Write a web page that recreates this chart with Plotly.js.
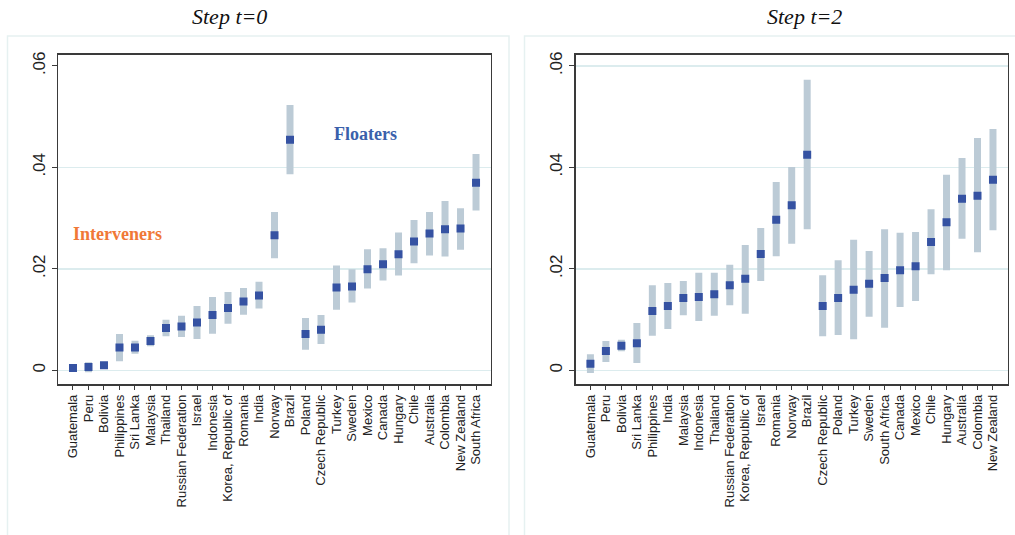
<!DOCTYPE html>
<html>
<head>
<meta charset="utf-8">
<script src="https://cdn.plot.ly/plotly-3.0.1.min.js"></script>
<style>html,body{margin:0;padding:0;background:#fff;}#chart{width:1015px;height:535px;}</style>
</head>
<body>
<div id="chart"></div>
<script>
// ---- Step t=0 ----
const countries0 = ["Guatemala","Peru","Bolivia","Philippines","Sri Lanka","Malaysia","Thailand","Russian Federation","Israel","Indonesia","Korea, Republic of","Romania","India","Norway","Brazil","Poland","Czech Republic","Turkey","Sweden","Mexico","Canada","Hungary","Chile","Australia","Colombia","New Zealand","South Africa"];
const est0 = [0.00046,0.00066,0.0010,0.00452,0.00452,0.00577,0.00833,0.00866,0.00944,0.01089,0.01226,0.01357,0.01475,0.02662,0.04544,0.00715,0.0080,0.01633,0.01652,0.01993,0.02092,0.02289,0.02538,0.02695,0.0278,0.02793,0.03698];
const hi0  = [0.0011,0.0016,0.0014,0.00715,0.00584,0.00689,0.00997,0.01075,0.01266,0.01443,0.01541,0.0162,0.01744,0.03121,0.05226,0.0103,0.01089,0.02066,0.01993,0.02387,0.02407,0.02715,0.02964,0.03121,0.03338,0.03193,0.04262];
const lo0  = [-0.0002,-0.0004,0.0005,0.00177,0.00328,0.00472,0.00669,0.00656,0.00616,0.00721,0.00918,0.01095,0.0122,0.0221,0.03862,0.00407,0.00518,0.01193,0.01338,0.01613,0.0177,0.01869,0.02111,0.02262,0.02243,0.02374,0.03148];

// ---- Step t=2 ----
const countries2 = ["Guatemala","Peru","Bolivia","Sri Lanka","Philippines","India","Malaysia","Indonesia","Thailand","Russian Federation","Korea, Republic of","Israel","Romania","Norway","Brazil","Czech Republic","Poland","Turkey","Sweden","South Africa","Canada","Mexico","Chile","Hungary","Australia","Colombia","New Zealand"];
const est2 = [0.00131,0.00381,0.00486,0.00532,0.01169,0.01268,0.01425,0.01445,0.01498,0.01675,0.01806,0.02292,0.02969,0.03251,0.0425,0.01268,0.01425,0.01589,0.01708,0.01819,0.0197,0.02049,0.02529,0.02916,0.03383,0.03442,0.03757];
const hi2  = [0.00315,0.00578,0.00604,0.00933,0.01675,0.01721,0.0176,0.01924,0.01924,0.02082,0.0247,0.02805,0.03711,0.04007,0.05727,0.01872,0.02167,0.02575,0.02351,0.02778,0.02713,0.02726,0.03172,0.03855,0.04184,0.04578,0.04755];
const lo2  = [-0.00053,0.00164,0.00374,0.00144,0.00683,0.00814,0.01084,0.00972,0.01077,0.01281,0.01117,0.0176,0.02246,0.02496,0.02778,0.0067,0.00696,0.00611,0.01057,0.00841,0.01248,0.01366,0.01892,0.0197,0.02594,0.02325,0.02759];

const yTickVals = [0, 0.02, 0.04, 0.06];
const yTickText = ["0", ".02", ".04", ".06"];
const leftGridVals = [0, 0.02, 0.04];
const rightGridVals = [0, 0.02, 0.04, 0.06];
const panelTitles = ["Step t=0", "Step t=2"];

const markerColor = "#3552a2";
const ciColor = "#bccbd6";

function trace(cats, est, hi, lo, xa, ya) {
  return {
    type: "scatter", mode: "markers",
    x: cats, y: est, xaxis: xa, yaxis: ya,
    marker: {symbol: "square", size: 8, color: markerColor},
    error_y: {
      type: "data", symmetric: false,
      array: hi.map((h, i) => h - est[i]),
      arrayminus: lo.map((l, i) => est[i] - l),
      color: ciColor, thickness: 7, width: 0
    },
    hoverinfo: "x+y", showlegend: false
  };
}

const data = [
  trace(countries0, est0, hi0, lo0, "x", "y"),
  trace(countries2, est2, hi2, lo2, "x2", "y2")
];

const gridColor = "#dcecee";
const frameColor = "#3a3a3a";
const tickFontX = {family: "Liberation Sans, Arial, sans-serif", size: 13, color: "#222"};
const tickFontY = {family: "Liberation Sans, Arial, sans-serif", size: 17, color: "#222"};

function xAxis(domain, cats) {
  return {
    domain: domain, type: "category", categoryorder: "array", categoryarray: cats,
    tickmode: "array", tickvals: cats, ticktext: cats,
    range: [-0.95, 26.95], tickangle: -90, tickfont: tickFontX,
    ticks: "outside", ticklen: 4, tickcolor: frameColor, tickwidth: 1,
    showline: true, linecolor: frameColor, linewidth: 1.5, mirror: true,
    showgrid: false, zeroline: false, fixedrange: true
  };
}
function yAxis(anchor, gridVals) {
  return {
    domain: [0.2822, 0.8978], anchor: anchor,
    range: [-0.0027, 0.0622],
    tickmode: "array", tickvals: yTickVals, ticktext: yTickText, tickangle: -90, tickfont: tickFontY,
    ticks: "outside", ticklen: 5, tickcolor: frameColor, tickwidth: 1,
    showline: true, linecolor: frameColor, linewidth: 1.5, mirror: true,
    showgrid: false,
    minor: {tickmode: "array", tickvals: gridVals, ticks: "", showgrid: true, gridcolor: gridColor, gridwidth: 1.5},
    zeroline: false, fixedrange: true
  };
}

const layout = {
  width: 1015, height: 535,
  margin: {l: 0, r: 0, t: 0, b: 0},
  paper_bgcolor: "#ffffff", plot_bgcolor: "#ffffff",
  showlegend: false,
  xaxis: xAxis([0.0574, 0.4835], countries0),
  yaxis: yAxis("x", leftGridVals),
  xaxis2: xAxis([0.5672, 0.9928], countries2),
  yaxis2: yAxis("x2", rightGridVals),
  shapes: [
    {type: "rect", xref: "paper", yref: "paper", x0: 7.5/1015, x1: 509/1015, y0: -0.02, y1: 1 - 36/535,
     line: {color: "#e6f1f1", width: 1.5}, layer: "below"},
    {type: "rect", xref: "paper", yref: "paper", x0: 524.5/1015, x1: 1.02, y0: -0.02, y1: 1 - 36/535,
     line: {color: "#e6f1f1", width: 1.5}, layer: "below"}
  ],
  annotations: [
    {text: panelTitles[0], xref: "paper", yref: "paper", x: 229/1015, y: 1 - 16/535,
     showarrow: false, xanchor: "center", yanchor: "middle",
     font: {family: "Liberation Serif, Times New Roman, serif", size: 22, color: "#111", style: "italic"}},
    {text: panelTitles[1], xref: "paper", yref: "paper", x: 804/1015, y: 1 - 16/535,
     showarrow: false, xanchor: "center", yanchor: "middle",
     font: {family: "Liberation Serif, Times New Roman, serif", size: 22, color: "#111", style: "italic"}},
    {text: "<b>Interveners</b>", xref: "x", yref: "y", x: 2.9, y: 0.0268,
     showarrow: false, xanchor: "center", yanchor: "middle",
     font: {family: "Liberation Serif, Times New Roman, serif", size: 18, color: "#f07836"}},
    {text: "<b>Floaters</b>", xref: "x", yref: "y", x: 18.9, y: 0.0465,
     showarrow: false, xanchor: "center", yanchor: "middle",
     font: {family: "Liberation Serif, Times New Roman, serif", size: 18, color: "#3a60ab"}}
  ]
};

Plotly.newPlot("chart", data, layout, {displayModeBar: false, staticPlot: true});
</script>
</body>
</html>
